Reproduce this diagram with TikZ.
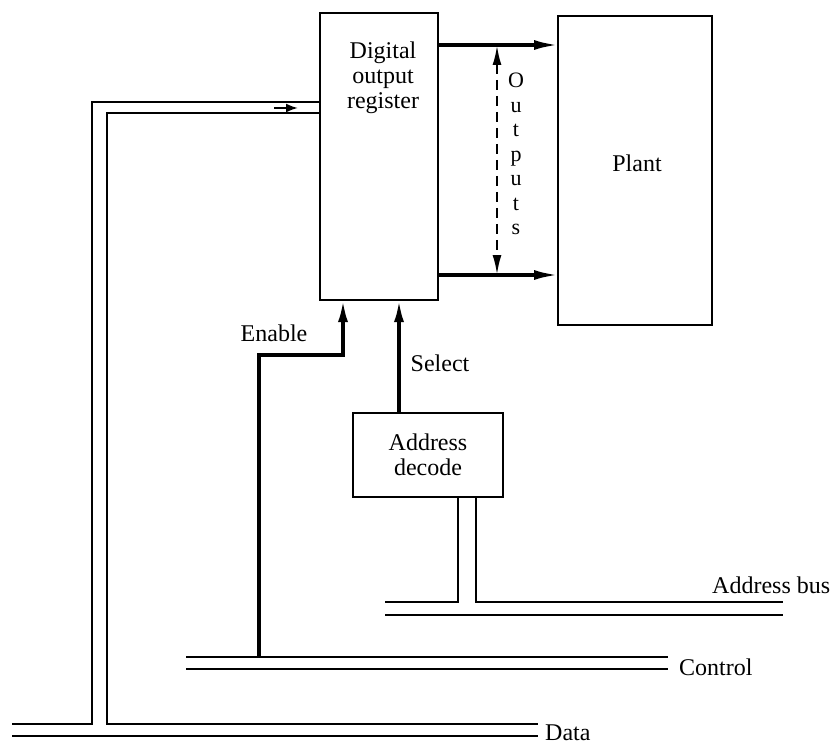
\documentclass[tikz,border=0pt]{standalone}
\usepackage{fontspec}
\setmainfont{Liberation Serif}
\usetikzlibrary{arrows.meta,calc}
\begin{document}
\begin{tikzpicture}[x=1pt,y=-1pt,
  box/.style={draw,line width=2.6pt,inner sep=0pt},
  busline/.style={line width=2.5pt},
  sig/.style={line width=3.4pt,-{Latex[length=22pt,width=10pt]}},
  outarr/.style={line width=3.2pt,-{Latex[length=24pt,width=10pt]}},
  dasharr/.style={line width=2.4pt,dash pattern=on 10pt off 6pt,{Latex[length=20pt,width=9pt]}-{Latex[length=20pt,width=9pt]}},
  lbl/.style={font=\fontsize{24}{25}\selectfont,inner sep=0pt}]
\useasboundingbox (0,0) rectangle (837,749);

% blocks
\node[box,minimum width=118pt,minimum height=287pt] (reg) at (379,156.5) {};
\node[lbl,align=center,anchor=north] (regtxt) at (383,42) {Digital\\output\\register};
\node[box,minimum width=154pt,minimum height=309pt] (plant) at (635,170.5) {};
\node[lbl] (planttxt) at (637,163) {Plant};
\node[box,minimum width=150pt,minimum height=84pt] (dec) at (428,455) {};
\node[lbl,align=center] (dectxt) at (428,455) {Address\\decode};

% outputs
\coordinate (o1s) at (438,45);
\coordinate (o1e) at (558,45);
\coordinate (o2s) at (438,275);
\coordinate (o2e) at (558,275);
\coordinate (d1) at (497,45);
\coordinate (d2) at (497,275);
\draw[outarr] (o1s) -- (o1e);
\draw[outarr] (o2s) -- (o2e);
\draw[dasharr] (d1) -- (d2);
\node[font=\fontsize{22}{24.5}\selectfont,inner sep=0pt,align=center,anchor=north] (outs) at (516,73) {O\\u\\t\\p\\u\\t\\s};

% data bus
\coordinate (da1) at (320,102);
\coordinate (da2) at (92,102);
\coordinate (da3) at (92,724);
\coordinate (da4) at (12,724);
\coordinate (db1) at (320,113);
\coordinate (db2) at (107,113);
\coordinate (db3) at (107,724);
\coordinate (db4) at (538,724);
\coordinate (dc1) at (12,736);
\coordinate (dc2) at (538,736);
\draw[busline] (da1) -- (da2) -- (da3) -- (da4);
\draw[busline] (db1) -- (db2) -- (db3) -- (db4);
\draw[busline] (dc1) -- (dc2);
\coordinate (dar1) at (274,108);
\coordinate (dar2) at (298,108);
\draw[line width=2pt,-{Latex[length=12pt,width=9pt]}] (dar1) -- (dar2);
\node[lbl,anchor=west] (datalbl) at (545,733) {Data};

% control bus
\coordinate (ca1) at (186,657);
\coordinate (ca2) at (668,657);
\coordinate (cb1) at (186,669);
\coordinate (cb2) at (668,669);
\draw[busline] (ca1) -- (ca2);
\draw[busline] (cb1) -- (cb2);
\node[lbl,anchor=west] (ctrllbl) at (679,667) {Control};

% enable
\coordinate (en1) at (259,657);
\coordinate (en2) at (259,355);
\coordinate (en3) at (343,355);
\coordinate (en4) at (343,300);
\draw[sig] (en1) -- (en2) -- (en3) -- (en4);
\node[lbl] (enlbl) at (274,333) {Enable};

% select
\coordinate (se1) at (399,413);
\coordinate (se2) at (399,300);
\draw[sig] (se1) -- (se2);
\node[lbl] (selbl) at (440,363) {Select};

% address bus
\coordinate (ad1) at (458,497);
\coordinate (ad2) at (458,602);
\coordinate (ad3) at (385,602);
\coordinate (ae1) at (476,497);
\coordinate (ae2) at (476,602);
\coordinate (ae3) at (783,602);
\coordinate (af1) at (385,615);
\coordinate (af2) at (783,615);
\draw[busline] (ad1) -- (ad2) -- (ad3);
\draw[busline] (ae1) -- (ae2) -- (ae3);
\draw[busline] (af1) -- (af2);
\node[lbl,anchor=west] (adlbl) at (712,585) {Address bus};
\end{tikzpicture}
\end{document}
